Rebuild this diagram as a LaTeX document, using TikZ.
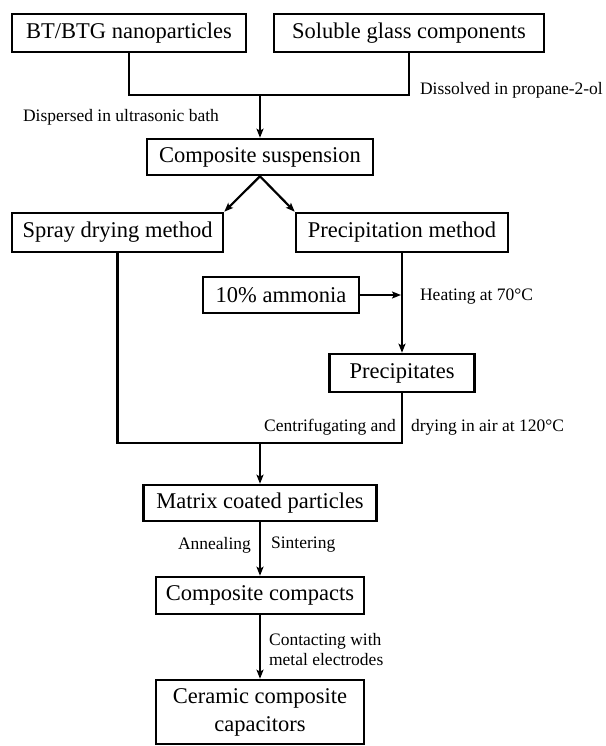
\documentclass[tikz,border=0pt]{standalone}
\usepackage{fontspec}
\setmainfont{Liberation Serif}
\usetikzlibrary{arrows.meta}

\begin{document}
\begin{tikzpicture}[x=1pt, y=-1pt, line width=2.2pt,
		box/.style={draw, line width=2.6pt, inner sep=0pt, align=center, font=\fontsize{22.5}{28}\selectfont},
		lbl/.style={inner sep=0pt, align=left, font=\fontsize{17.5}{20}\selectfont},
		arr/.style={-{Stealth[length=9pt, width=7pt, inset=2pt]}}]
	\useasboundingbox (0,0) rectangle (605,746);
	\node[box, minimum width=234pt, minimum height=38pt] (bt) at (129,33) {BT/BTG nanoparticles};
	\node[box, minimum width=270pt, minimum height=38pt] (glass) at (409,33) {Soluble glass components};
	\node[box, minimum width=226pt, minimum height=36pt] (susp) at (260,157) {Composite suspension};
	\node[box, minimum width=211pt, minimum height=39pt] (spray) at (117.5,232.5) {Spray drying method};
	\node[box, minimum width=212pt, minimum height=39pt] (pm) at (402,232.5) {Precipitation method};
	\node[box, minimum width=156pt, minimum height=36pt] (amm) at (281,295) {10\% ammonia};
	\node[box, minimum width=145pt, minimum height=38pt] (pcp) at (402,373) {Precipitates};
	\node[box, minimum width=233pt, minimum height=36pt] (mcp) at (260,503) {Matrix coated particles};
	\node[box, minimum width=208pt, minimum height=37pt] (cc) at (260,595.5) {Composite compacts};
	\node[box, minimum width=208pt, minimum height=64pt] (cap) at (260,712) {Ceramic composite\\capacitors};
	\coordinate (j1) at (260,95);
	\coordinate (j2) at (260,443);
	% labels
	\node[lbl, anchor=west] (dis) at (419,90) {Dissolved in propane-2-ol};
	\node[lbl, anchor=west] (disp) at (22,117) {Dispersed in ultrasonic bath};
	\node[lbl, anchor=west] (heat) at (419,297) {Heating at 70°C};
	\node[lbl, anchor=east] (cent) at (397,427) {Centrifugating and};
	\node[lbl, anchor=west] (dry) at (410,427) {drying in air at 120°C};
	\node[lbl, anchor=east] (ann) at (252,545) {Annealing};
	\node[lbl, anchor=west] (sin) at (270,545) {Sintering};
	\node[lbl, anchor=west] (con) at (268,650) {Contacting with\\metal electrodes};
	% connectors
	\draw (bt.south) |- (j1) -| (glass.south);
	\draw[arr] (j1) -- (susp.north);
	\draw[arr] (susp.south) -- (spray.north east);
	\draw[arr] (susp.south) -- (pm.north west);
	\draw[arr, shorten >=1pt] (amm.east) -- (amm.east -| pm.south);
	\draw[arr] (pm.south) -- (pcp.north);
	\draw (spray.south) |- (j2) -| (pcp.south);
	\draw[arr] (j2) -- (mcp.north);
	\draw[arr] (mcp.south) -- (cc.north);
	\draw[arr] (cc.south) -- (cap.north);
\end{tikzpicture}
\end{document}
